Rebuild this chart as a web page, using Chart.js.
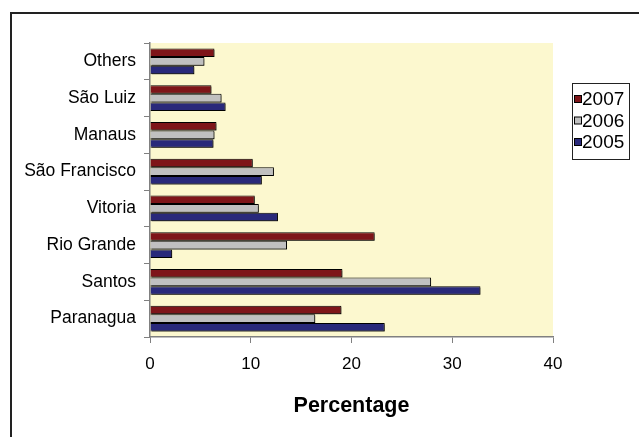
<!DOCTYPE html>
<html>
<head>
<meta charset="utf-8">
<script src="https://cdn.jsdelivr.net/npm/chart.js@4.4.1/dist/chart.umd.min.js"></script>
<style>
  html, body { margin: 0; padding: 0; background: #fff; }
  #wrap { width: 639px; height: 437px; position: relative; }
</style>
</head>
<body>
<div id="wrap"><canvas id="c"></canvas></div>
<script>
// Port share of traffic (%) by year
const ports = ['Others', 'São Luiz', 'Manaus', 'São Francisco', 'Vitoria', 'Rio Grande', 'Santos', 'Paranagua'];
const share2007 = [6.4, 6.1, 6.6, 10.2, 10.4, 22.3, 19.1, 19.0];
const share2006 = [5.4, 7.1, 6.4, 12.3, 10.8, 13.6, 27.9, 16.4];
const share2005 = [4.4, 7.5, 6.3, 11.1, 12.7, 2.2, 32.8, 23.3];
const yearLabels = ['2007', '2006', '2005'];
const xTicks = [0, 10, 20, 30, 40];

const FONT = "'Liberation Sans', Arial, sans-serif";
const AXIS_GRAY = '#808080';

// Cream plot background, outer frame and bar shadows
const framePlugin = {
  id: 'frame',
  beforeDraw(chart) {
    const { ctx, chartArea: a } = chart;
    ctx.save();
    ctx.fillStyle = '#FCF8CF';
    ctx.fillRect(a.left, a.top, a.right - a.left, a.bottom - a.top);
    ctx.restore();
  },
  beforeDatasetsDraw(chart) {
    const ctx = chart.ctx;
    ctx.save();
    ctx.shadowColor = 'rgba(0,0,0,0.45)';
    ctx.shadowOffsetX = 1.5;
    ctx.shadowOffsetY = 1.5;
    ctx.shadowBlur = 0;
  },
  afterDatasetsDraw(chart) {
    chart.ctx.restore();
  },
  afterDraw(chart) {
    const ctx = chart.ctx;
    ctx.save();
    ctx.strokeStyle = '#222';
    ctx.lineWidth = 2;
    ctx.strokeRect(11, 13, 700, 500);
    ctx.restore();
  }
};

// Boxed legend on the right
const boxLegend = {
  id: 'boxLegend',
  afterDraw(chart) {
    const ctx = chart.ctx;
    const x0 = 572, y0 = 83, w = 57, h = 76;
    ctx.save();
    ctx.fillStyle = '#fff';
    ctx.fillRect(x0, y0, w, h);
    ctx.strokeStyle = '#222';
    ctx.lineWidth = 1;
    ctx.strokeRect(x0 + 0.5, y0 + 0.5, w, h);
    ctx.font = '19px ' + FONT;
    ctx.textBaseline = 'middle';
    chart.data.datasets.forEach((ds, i) => {
      const cy = y0 + 16 + i * 21.5;
      ctx.fillStyle = ds.backgroundColor;
      ctx.fillRect(574.5, cy - 3.5, 7, 7);
      ctx.strokeStyle = '#000';
      ctx.strokeRect(574.5, cy - 3.5, 7, 7);
      ctx.fillStyle = '#000';
      ctx.fillText(ds.label, 582, cy + 1);
    });
    ctx.restore();
  }
};

const colors = ['#7E1519', '#C0C0C0', '#29297A'];
const seriesValues = [share2007, share2006, share2005];

new Chart(document.getElementById('c'), {
  type: 'bar',
  data: {
    labels: ports,
    datasets: seriesValues.map((vals, i) => ({
      label: yearLabels[i],
      data: vals,
      backgroundColor: colors[i],
      borderColor: '#000',
      borderWidth: 1,
      categoryPercentage: 0.7,
      barPercentage: 1.0
    }))
  },
  options: {
    indexAxis: 'y',
    responsive: true,
    maintainAspectRatio: false,
    animation: false,
    devicePixelRatio: 1,
    layout: { padding: { left: 0, top: 43, right: 86, bottom: 0 } },
    plugins: {
      legend: { display: false },
      tooltip: { enabled: false }
    },
    scales: {
      x: {
        type: 'linear',
        min: xTicks[0],
        max: xTicks[xTicks.length - 1],
        afterBuildTicks(scale) { scale.ticks = xTicks.map(v => ({ value: v })); },
        ticks: { color: '#000', font: { family: FONT, size: 17 }, padding: 11 },
        grid: { drawOnChartArea: false, color: AXIS_GRAY, tickLength: 6 },
        border: { color: AXIS_GRAY, width: 1.5 },
        title: {
          display: true,
          text: 'Percentage',
          color: '#000',
          font: { family: FONT, size: 21.5, weight: 'bold' },
          padding: { top: 18, bottom: 18 }
        },
        afterFit(scale) { scale.height = 100; }
      },
      y: {
        ticks: { color: '#000', font: { family: FONT, size: 17.5 }, padding: 8 },
        grid: { offset: true, drawOnChartArea: false, color: AXIS_GRAY, tickLength: 6 },
        border: { color: AXIS_GRAY, width: 1.5 },
        afterFit(scale) { scale.width = 150; }
      }
    }
  },
  plugins: [framePlugin, boxLegend]
});
</script>
</body>
</html>
